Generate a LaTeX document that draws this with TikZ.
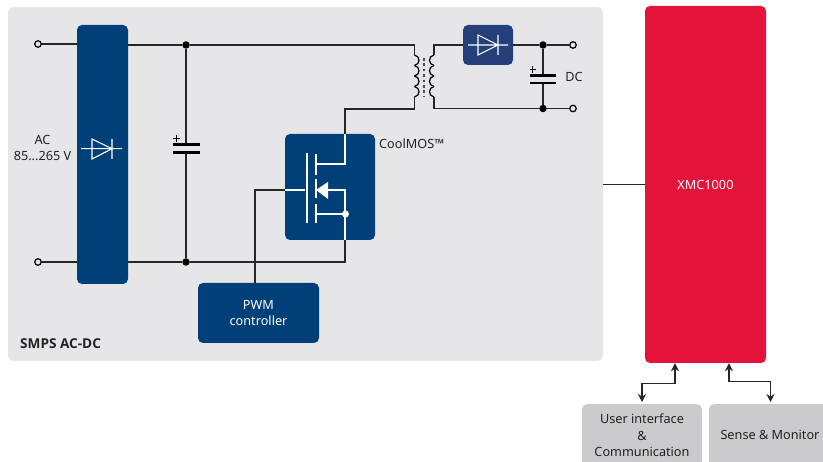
\documentclass[tikz,border=0pt]{standalone}
\usepackage{fontspec}
\setmainfont{Noto Sans}
\newfontfamily\boldlabel{Open Sans}
\usetikzlibrary{arrows.meta}
\definecolor{panel}{HTML}{E6E6E8}
\definecolor{ifxblue}{HTML}{003F78}
\definecolor{diodeblue}{HTML}{253F7B}
\definecolor{xmcred}{HTML}{E4133A}
\definecolor{greybox}{HTML}{CBCBCD}
\definecolor{txt}{HTML}{222222}
\tikzset{
  wire/.style={line width=1.3pt,black!85},
  wwire/.style={line width=1.1pt,white},
  plate/.style={line width=2.4pt,black,line cap=butt},
  box/.style={rounded corners=5pt,inner sep=0pt,draw=none,align=center,font=\fontsize{12.7pt}{16pt}\selectfont},
  bluebox/.style={box,fill=ifxblue,text=white},
  lbl/.style={inner sep=0pt,align=center,text=txt,font=\fontsize{12.7pt}{16pt}\selectfont},
  dotn/.style={circle,fill=black,inner sep=0pt,minimum size=7.5pt},
  wdot/.style={circle,fill=white,inner sep=0pt,minimum size=7pt},
  term/.style={circle,draw=black,line width=1.2pt,fill=panel,inner sep=0pt,minimum size=6.5pt},
  both/.style={wire,{Stealth[length=8pt,width=8pt]}-{Stealth[length=8pt,width=8pt]}},
}
\begin{document}
\begin{tikzpicture}[x=1pt,y=-1pt]
\useasboundingbox (0,0) rectangle (823,462);
\clip (0,0) rectangle (823,462);
% blocks
\node[box,fill=panel,minimum width=595pt,minimum height=354pt,rounded corners=6pt] (panel) at (305.5,184) {};
\node[box,fill=xmcred,text=white,minimum width=121pt,minimum height=357pt] (xmc) at (705.5,184.5) {XMC1000};
\node[bluebox,minimum width=51pt,minimum height=259pt] (bridge) at (102.5,154.5) {};
\node[bluebox,minimum width=90pt,minimum height=106pt] (mos) at (330,187) {};
\node[box,fill=diodeblue,minimum width=50pt,minimum height=40pt] (sdiode) at (488,45) {};
\node[bluebox,minimum width=121pt,minimum height=60pt] (pwm) at (258.5,313) {PWM\\controller};
\node[box,fill=greybox,text=txt,minimum width=120pt,minimum height=70pt,anchor=north] (ui) at (642,404) {};
\node[box,fill=greybox,text=txt,minimum width=120pt,minimum height=70pt,anchor=north] (sense) at (769,404) {};
% labels
\node[lbl] (uit) at (642,435.5) {User interface\\[0.6pt]\&\\[0.6pt]Communication};
\node[lbl] (st) at (770,435) {Sense \& Monitor};
\node[lbl] (ac) at (42.5,147.5) {AC\\85...265 V};
\node[lbl,anchor=west] (cool) at (379,144) {CoolMOS™};
\node[lbl] (dc) at (574,77) {DC};
\node[lbl,anchor=west,font=\fontsize{13.6pt}{16pt}\boldlabel\bfseries] (smps) at (20,344) {SMPS AC-DC};
% terminals and junctions
\node[term] (t1) at (38,44) {};
\node[term] (t2) at (38,262) {};
\node[term] (t3) at (573,45) {};
\node[term] (t4) at (573,108.5) {};
\node[dotn] (j1) at (186,45) {};
\node[dotn] (j2) at (186,262) {};
\node[dotn] (j3) at (543,45) {};
\node[dotn] (j4) at (543,108.5) {};
% coordinates
\coordinate (pt) at (414.5,45);
\coordinate (pb) at (414.5,109);
\coordinate (st1) at (434,45);
\coordinate (sb) at (434,108.5);
\coordinate (dr) at (345,134);
\coordinate (so) at (345,240);
\coordinate (g) at (285,190);
\coordinate (gk) at (255,190);
\coordinate (a1) at (675,383.5);
\coordinate (a2) at (642,383.5);
\coordinate (a3) at (729,381.5);
\coordinate (a4) at (770.5,381.5);
% primary wiring
\draw[wire] (t1) -- (t1-|bridge.west);
\draw[wire] (t2) -- (t2-|bridge.west);
\draw[wire] (j1-|bridge.east) -- (j1) -- (pt) -- (414.5,55);
\draw[wire] (j2-|bridge.east) -- (j2) -- (345,262) -- (so);
\draw[wire] (414.5,97) -- (pb) -- (345,109) -- (dr);
\draw[wire] (g) -- (gk) -- (gk|-pwm.north);
\draw[wire] (j1) -- (186,144);
\draw[wire] (186,153) -- (j2);
% smoothing capacitor
\draw[plate] (173,144.5) -- (200,144.5);
\draw[plate] (173,152.5) -- (200,152.5);
\draw[line width=0.9pt,black] (173,138.5) -- (179.5,138.5) (176.2,135.2) -- (176.2,141.8);
% transformer
\foreach \y in {55,65.5,76,86.5}{
  \draw[line width=1.2pt,black] (414.5,\y) .. controls (420.5,\y+1) and (420.5,\y+9.5) .. (414.5,\y+10.5);
  \draw[line width=1.2pt,black] (434,\y) .. controls (428,\y+1) and (428,\y+9.5) .. (434,\y+10.5);
}
\draw[line width=2pt,black!70,dash pattern=on 2.6pt off 2.8pt] (424,58) -- (424,97);
% secondary wiring
\draw[wire] (434,55) -- (st1) -- (sdiode.west);
\draw[wire] (sdiode.east) -- (j3) -- (t3);
\draw[wire] (434,97) -- (sb) -- (j4) -- (t4);
\draw[wire] (j3) -- (543,76);
\draw[wire] (543,83) -- (j4);
\draw[plate] (530,75.7) -- (556,75.7);
\draw[plate] (530,83) -- (556,83);
\draw[line width=0.9pt,black] (529.5,69.5) -- (536,69.5) (532.7,66.2) -- (532.7,72.8);
% diode symbols
\draw[wwire] (81,148.7) -- (122,148.7) (92,139) -- (92,159) -- (112,148.7) -- cycle (112,139) -- (112,159);
\draw[wwire] (468,45) -- (508,45) (478,35) -- (478,55) -- (498,45) -- cycle (498,35) -- (498,55);
% MOSFET
\draw[line width=2.4pt,white] (307,153) -- (307,223);
\draw[line width=2.4pt,white] (316,154) -- (316,175) (316,179) -- (316,198) (316,204) -- (316,223);
\draw[wwire] (g) -- (305,190);
\draw[wwire] (316,164) -- (345,164) -- (dr);
\draw[wwire] (316,214) -- (345,214);
\draw[wwire] (328,190) -- (345,190) -- (so);
\fill[white] (316,190) -- (328,182) -- (328,199) -- cycle;
\node[wdot] (sj) at (345.5,214) {};
% links to the controller
\draw[wire] (panel.east|-xmc.west) -- (xmc.west);
\draw[both] (xmc.south-|a1) -- (a1) -- (a2) -- (642,402);
\draw[both] (xmc.south-|a3) -- (a3) -- (a4) -- (770.5,402);
\end{tikzpicture}
\end{document}
